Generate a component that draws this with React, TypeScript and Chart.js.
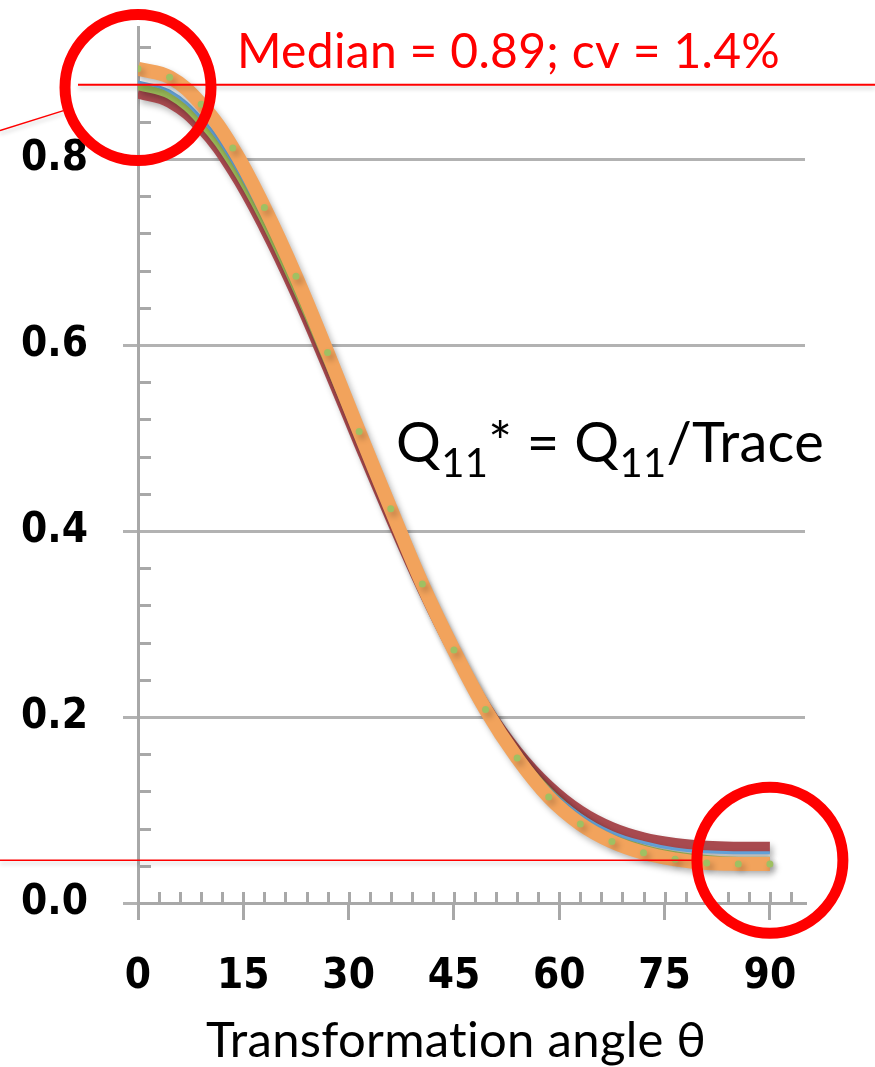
import React, { useEffect, useRef } from "react";
import { Chart, registerables } from "chart.js";

Chart.register(...registerables);

// ---- data ----
const angles = [0, 4.5, 9, 13.5, 18, 22.5, 27, 31.5, 36, 40.5, 45, 49.5, 54, 58.5, 63, 67.5, 72, 76.5, 81, 85.5, 90];
const orangeSeries = [0.897, 0.888, 0.859, 0.812, 0.748, 0.674, 0.592, 0.507, 0.424, 0.343, 0.272, 0.208, 0.156, 0.114, 0.085, 0.066, 0.054, 0.047, 0.043, 0.042, 0.042];
const blueSeries = [0.883, 0.873, 0.844, 0.797, 0.735, 0.663, 0.583, 0.5, 0.418, 0.34, 0.271, 0.211, 0.161, 0.123, 0.095, 0.076, 0.065, 0.058, 0.055, 0.054, 0.054];
const greenSeries = [0.878, 0.868, 0.839, 0.793, 0.732, 0.66, 0.581, 0.499, 0.417, 0.34, 0.27, 0.21, 0.16, 0.121, 0.092, 0.072, 0.059, 0.052, 0.048, 0.046, 0.046];
const redSeries = [0.871, 0.861, 0.833, 0.787, 0.726, 0.655, 0.576, 0.494, 0.414, 0.338, 0.27, 0.211, 0.163, 0.126, 0.099, 0.081, 0.07, 0.064, 0.061, 0.06, 0.06];

const xTickValues = [0, 15, 30, 45, 60, 75, 90];
const yTickValues = [0, 0.2, 0.4, 0.6, 0.8];
const xMin = 0;
const xMax = 95;
const yMin = 0;
const yMax = 0.942;
const xMinorStep = 3;
const yMinorStep = 0.04;

const medianLineValue = 0.88;
const floorLineValue = 0.046;
const medianText = "Median = 0.89; cv = 1.4%";
const xTitle = "Transformation angle θ";

const calibriLike = "Lato, 'Open Sans', sans-serif";
const tickFont = "'DejaVu Sans Condensed', 'DejaVu Sans', sans-serif";
const AXIS_GRAY = "#a8a8a8";
const GRID_GRAY = "#b2b2b2";
const RED = "#ff0000";

const W = 875;
const H = 1067;

const overlayPlugin = {
  id: "overlay",
  beforeDatasetsDraw(chart: any) {
    const ctx = chart.ctx;
    const xs = chart.scales.x;
    const ys = chart.scales.y;
    const area = chart.chartArea;
    ctx.save();
    ctx.strokeStyle = AXIS_GRAY;
    ctx.lineWidth = 3;
    // y minor ticks (inside)
    for (let k = 1; k * yMinorStep <= yMax + 1e-9; k++) {
      if (k % 5 === 0) continue;
      const py = Math.round(ys.getPixelForValue(k * yMinorStep)) + 0.5;
      ctx.beginPath();
      ctx.moveTo(area.left, py);
      ctx.lineTo(area.left + 13, py);
      ctx.stroke();
    }
    // x minor ticks (inside)
    for (let k = 1; k * xMinorStep <= xMax + 1e-9; k++) {
      const px = Math.round(xs.getPixelForValue(k * xMinorStep)) + 0.5;
      ctx.beginPath();
      ctx.moveTo(px, area.bottom);
      ctx.lineTo(px, area.bottom - 11);
      ctx.stroke();
    }
    ctx.restore();
    // shadows for the series
    ctx.save();
    ctx.shadowColor = "rgba(0,0,0,0.28)";
    ctx.shadowBlur = 6;
    ctx.shadowOffsetX = 3;
    ctx.shadowOffsetY = 4;
  },
  afterDatasetsDraw(chart: any) {
    const ctx = chart.ctx;
    ctx.restore();
    const xs = chart.scales.x;
    const ys = chart.scales.y;

    ctx.save();
    const c1x = xs.getPixelForValue(0);
    const c1y = ys.getPixelForValue(0.877);
    const c2x = xs.getPixelForValue(90);
    const c2y = ys.getPixelForValue(floorLineValue);
    const r = 73;

    // red reference lines
    ctx.shadowColor = "rgba(0,0,0,0.22)";
    ctx.shadowBlur = 4;
    ctx.shadowOffsetY = 3;
    ctx.strokeStyle = RED;
    ctx.lineWidth = 2;
    const my = ys.getPixelForValue(medianLineValue);
    ctx.beginPath();
    ctx.moveTo(c1x - 60, my);
    ctx.lineTo(W, my);
    ctx.stroke();

    ctx.lineWidth = 1.5;
    const fy = ys.getPixelForValue(floorLineValue);
    ctx.beginPath();
    ctx.moveTo(0, fy);
    ctx.lineTo(c2x - r - 5, fy);
    ctx.stroke();

    // callout line going off to the left
    const dx = -138, dy = 43;
    const len = Math.hypot(dx, dy);
    ctx.beginPath();
    ctx.moveTo(c1x + (dx / len) * (r + 5), c1y + (dy / len) * (r + 5));
    ctx.lineTo(0, c1y + 43);
    ctx.stroke();

    ctx.shadowColor = "rgba(0,0,0,0)";
    // circles
    ctx.lineWidth = 11;
    ctx.beginPath();
    ctx.arc(c1x, c1y, r, 0, Math.PI * 2);
    ctx.stroke();
    ctx.beginPath();
    ctx.arc(c2x, c2y, r, 0, Math.PI * 2);
    ctx.stroke();

    // texts
    (ctx as any).letterSpacing = "0.3px";
    ctx.fillStyle = RED;
    ctx.textBaseline = "alphabetic";
    ctx.textAlign = "left";
    ctx.font = `48px ${calibriLike}`;
    ctx.fillText(medianText, 237, 68);

    // Q11* = Q11/Trace
    ctx.fillStyle = "#000";
    const parts = [
      { t: "Q", size: 56, dy: 0 },
      { t: "11", size: 40, dy: 15 },
      { t: "*", size: 56, dy: 0 },
      { t: " = Q", size: 56, dy: 0 },
      { t: "11", size: 40, dy: 15 },
      { t: "/Trace", size: 56, dy: 0 },
    ];
    let x = 396;
    const base = 462;
    for (const p of parts) {
      ctx.font = `${p.size}px ${calibriLike}`;
      ctx.fillText(p.t, x, base + p.dy);
      x += ctx.measureText(p.t).width;
    }

    // x axis title
    ctx.textAlign = "center";
    ctx.font = `49px ${calibriLike}`;
    ctx.fillText(xTitle, 456, 1057);
    ctx.restore();
  },
};

export default function App() {
  const ref = useRef<HTMLCanvasElement | null>(null);

  useEffect(() => {
    if (!ref.current) return;
    const mk = (vals: number[]) => angles.map((a, i) => ({ x: a, y: vals[i] }));
    const chart = new Chart(ref.current, {
      type: "line",
      data: {
        datasets: [
          {
            label: "orange",
            data: mk(orangeSeries),
            borderColor: "#f2a35c",
            borderWidth: 14,
            tension: 0.4,
            pointRadius: 3.5,
            pointBackgroundColor: "#9fc062",
            pointBorderWidth: 0,
          },
          {
            label: "blue",
            data: mk(blueSeries),
            borderColor: "#63a0d6",
            borderWidth: 3,
            tension: 0.4,
            pointRadius: 0,
          },
          {
            label: "green",
            data: mk(greenSeries),
            borderColor: "#9bbb59",
            borderWidth: 7,
            tension: 0.4,
            pointRadius: 0,
          },
          {
            label: "red",
            data: mk(redSeries),
            borderColor: "#a84a4f",
            borderWidth: 11,
            tension: 0.4,
            pointRadius: 0,
          },
        ],
      },
      options: {
        responsive: false,
        maintainAspectRatio: false,
        animation: false,
        layout: { padding: { left: 0, top: 27, right: 70, bottom: 0 } },
        plugins: {
          legend: { display: false },
          tooltip: { enabled: false },
          title: { display: false },
        },
        scales: {
          x: {
            type: "linear",
            min: xMin,
            max: xMax,
            afterBuildTicks: (s: any) => {
              s.ticks = xTickValues.map((v) => ({ value: v }));
            },
            afterFit: (s: any) => {
              s.height = H - 903;
              s.paddingLeft = 0;
              s.paddingRight = 0;
            },
            grid: {
              drawOnChartArea: false,
              drawTicks: true,
              tickLength: 17,
              color: AXIS_GRAY,
              lineWidth: 3,
            },
            border: { display: true, color: AXIS_GRAY, width: 3 },
            ticks: {
              color: "#000",
              padding: 32,
              maxRotation: 0,
              autoSkip: false,
              font: { family: tickFont, size: 42, weight: "bold" },
              callback: (v: any) => String(v),
            },
          },
          y: {
            type: "linear",
            min: yMin,
            max: yMax,
            afterBuildTicks: (s: any) => {
              s.ticks = yTickValues.map((v) => ({ value: v }));
            },
            afterFit: (s: any) => {
              s.width = 138;
              s.paddingTop = 0;
              s.paddingBottom = 0;
            },
            grid: {
              drawOnChartArea: true,
              drawTicks: true,
              tickLength: 15,
              color: GRID_GRAY,
              lineWidth: 3,
            },
            border: { display: true, color: AXIS_GRAY, width: 3 },
            ticks: {
              color: "#000",
              padding: 35,
              autoSkip: false,
              font: { family: tickFont, size: 42, weight: "bold" },
              callback: (v: any) => Number(v).toFixed(1),
            },
          },
        },
      },
      plugins: [overlayPlugin],
    });
    return () => chart.destroy();
  }, []);

  return (
    <div style={{ position: "absolute", left: 0, top: 0, width: W, height: H, background: "#fff" }}>
      <canvas ref={ref} width={W} height={H} />
    </div>
  );
}
